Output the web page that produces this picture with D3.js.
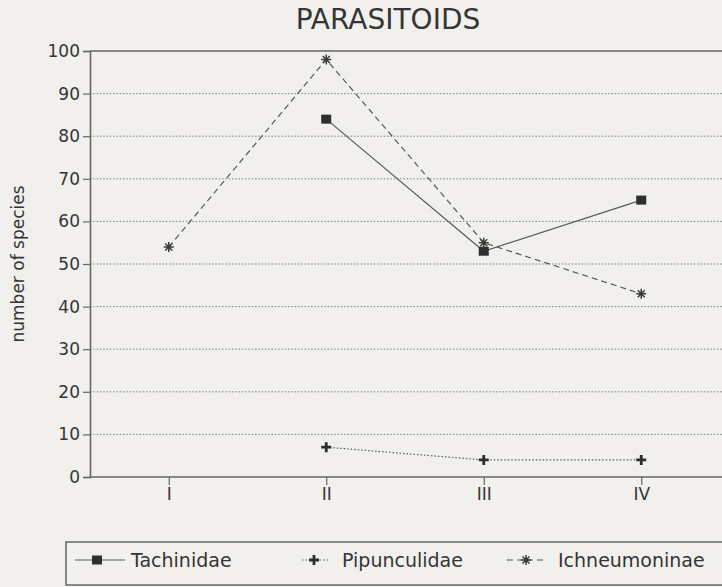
<!DOCTYPE html>
<html>
<head>
<meta charset="utf-8">
<script src="https://cdn.jsdelivr.net/npm/d3@7"></script>
<style>
  html, body { margin: 0; padding: 0; background: #f1f0ec; }
  svg { display: block; font-family: "DejaVu Sans", "Liberation Sans", Arial, sans-serif; }
</style>
</head>
<body>
<svg id="chart" width="722" height="587"></svg>
<script>
// Species counts per site for three parasitoid groups
const sites = ["I", "II", "III", "IV"];
const tachinidae = [null, 84, 53, 65];
const pipunculidae = [null, 7, 4, 4];
const ichneumoninae = [54, 98, 55, 43];
const yTicks = [0, 10, 20, 30, 40, 50, 60, 70, 80, 90, 100];
const seriesNames = ["Tachinidae", "Pipunculidae", "Ichneumoninae"];

const svg = d3.select("#chart");
const W = 722, H = 587;
const m = { left: 90, right: 2, top: 51, bottom: 110 };
const FONT = "DejaVu Sans, Liberation Sans, Arial, sans-serif";

svg.append("rect").attr("width", W).attr("height", H).attr("fill", "#f1f0ec");

const x = d3.scalePoint().domain(sites).range([m.left, W - m.right]).padding(0.5);
const y = d3.scaleLinear().domain([0, 100]).range([H - m.bottom, m.top]);

const ink = "#353535";
const lineInk = "#5a5a5a";

// horizontal grid
svg.append("g").selectAll("line").data(yTicks.filter(v => v > 0 && v < 100)).join("line")
  .attr("x1", m.left).attr("x2", W)
  .attr("y1", d => y(d)).attr("y2", d => y(d))
  .attr("stroke", "#7e7e7e").attr("stroke-width", 1)
  .attr("stroke-dasharray", "1.5,1.8");

// top frame line
svg.append("line").attr("x1", m.left).attr("x2", W)
  .attr("y1", y(100)).attr("y2", y(100))
  .attr("stroke", "#666").attr("stroke-width", 1.6);

// y axis
const yAxis = d3.axisLeft(y).tickValues(yTicks).tickSize(7).tickPadding(3);
const gy = svg.append("g").attr("transform", `translate(${m.left},0)`).call(yAxis);
gy.attr("font-family", FONT).attr("font-size", 17);
gy.select(".domain").attr("stroke", "#666").attr("stroke-width", 1.6);
gy.selectAll(".tick line").attr("stroke", "#666").attr("stroke-width", 1.2);
gy.selectAll(".tick text").attr("fill", ink);

// x axis
const xAxis = d3.axisBottom(x).tickSize(8).tickPadding(3).tickSizeOuter(0);
const gx = svg.append("g").attr("transform", `translate(0,${y(0)})`).call(xAxis);
gx.attr("font-family", FONT).attr("font-size", 17);
gx.select(".domain").attr("d", `M${m.left},0H${W}`).attr("stroke", "#666").attr("stroke-width", 1.6);
gx.selectAll(".tick line").attr("stroke", "#666").attr("stroke-width", 1.2);
gx.selectAll(".tick text").attr("fill", ink);

// title
svg.append("text").attr("x", 388).attr("y", 29).attr("text-anchor", "middle")
  .attr("font-size", 28).attr("fill", ink).text("PARASITOIDS");

// y-axis label
svg.append("text").attr("transform", `translate(24,${y(50)}) rotate(-90)`)
  .attr("text-anchor", "middle").attr("font-size", 17).attr("fill", ink)
  .text("number of species");

// marker shapes
function drawSquare(g, cx, cy) {
  g.append("rect").attr("x", cx - 5).attr("y", cy - 4.5).attr("width", 10).attr("height", 9)
    .attr("fill", "#2e2e2e");
}
function drawPlus(g, cx, cy) {
  g.append("path").attr("d", `M${cx - 5},${cy}H${cx + 5}M${cx},${cy - 5}V${cy + 5}`)
    .attr("stroke", "#2e2e2e").attr("stroke-width", 2.8);
}
function drawStar(g, cx, cy) {
  const r = 5;
  let d = `M${cx - r},${cy}H${cx + r}`;
  d += `M${cx - r * 0.7},${cy - r * 0.7}L${cx + r * 0.7},${cy + r * 0.7}`;
  d += `M${cx - r * 0.7},${cy + r * 0.7}L${cx + r * 0.7},${cy - r * 0.7}`;
  d += `M${cx},${cy - r}V${cy + r}`;
  g.append("path").attr("d", d).attr("stroke", "#3a3a3a").attr("stroke-width", 1.5);
}

const series = [
  { name: seriesNames[0], values: tachinidae, dash: null, width: 1.2, marker: drawSquare },
  { name: seriesNames[1], values: pipunculidae, dash: "1.5,2", width: 1.2, marker: drawPlus },
  { name: seriesNames[2], values: ichneumoninae, dash: "6,4", width: 1.2, marker: drawStar }
];

const line = d3.line().defined(d => d.v != null).x(d => x(d.s)).y(d => y(d.v));
const plot = svg.append("g");
series.forEach(s => {
  const pts = sites.map((site, i) => ({ s: site, v: s.values[i] }));
  plot.append("path").datum(pts).attr("d", line)
    .attr("fill", "none").attr("stroke", lineInk).attr("stroke-width", s.width)
    .attr("stroke-dasharray", s.dash);
});
series.forEach(s => {
  const g = plot.append("g");
  sites.forEach((site, i) => {
    if (s.values[i] != null) s.marker(g, x(site), y(s.values[i]));
  });
});

// legend
const lg = svg.append("g");
lg.append("rect").attr("x", 66).attr("y", 542).attr("width", 670).attr("height", 43)
  .attr("fill", "none").attr("stroke", "#666").attr("stroke-width", 1.5);
const legendPos = [
  { x1: 75, x2: 125, mx: 97, tx: 131 },
  { x1: 302, x2: 330, mx: 314, tx: 342 },
  { x1: 507, x2: 545, mx: 526, tx: 558 }
];
series.forEach((s, i) => {
  const p = legendPos[i];
  const ly = 560;
  lg.append("line").attr("x1", p.x1).attr("x2", p.x2).attr("y1", ly).attr("y2", ly)
    .attr("stroke", lineInk).attr("stroke-width", s.width).attr("stroke-dasharray", s.dash);
  s.marker(lg, p.mx, ly);
  lg.append("text").attr("x", p.tx).attr("y", ly).attr("dy", "0.36em")
    .attr("font-size", 19).attr("fill", ink).text(s.name);
});
</script>
</body>
</html>
